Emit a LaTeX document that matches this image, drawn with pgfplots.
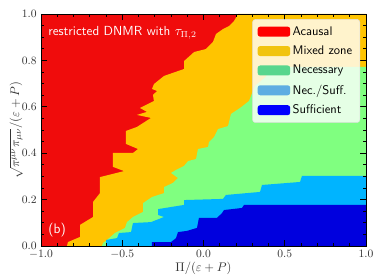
\documentclass[border=0pt]{standalone}
\usepackage{pgfplots}
\pgfplotsset{compat=1.18}
\definecolor{cred}{RGB}{240,12,12}
\definecolor{cyel}{RGB}{255,196,0}
\definecolor{cgrn}{RGB}{128,255,128}
\definecolor{ccyn}{RGB}{0,180,255}
\definecolor{cblu}{RGB}{0,0,222}
\definecolor{lred}{RGB}{255,0,0}
\definecolor{lyel}{RGB}{241,196,15}
\definecolor{lgrn}{RGB}{88,214,141}
\definecolor{lcyn}{RGB}{93,173,226}
\definecolor{lblu}{RGB}{0,0,255}
\begin{document}
\begin{tikzpicture}
\begin{axis}[
  scale only axis,
  width=260pt, height=185.6pt,
  xmin=-1, xmax=1, ymin=0, ymax=1,
  axis on top,
  xtick={-1,-0.5,0,0.5,1}, ytick={0,0.2,0.4,0.6,0.8,1},
  minor x tick num=4, minor y tick num=3,
  tick align=inside, xtick pos=both, ytick pos=both,
  major tick length=5pt, minor tick length=2.6pt,
  every tick/.style={black, line width=0.6pt},
  axis line style={black, line width=0.6pt},
  xticklabel style={/pgf/number format/.cd, fixed, fixed zerofill, precision=1},
  yticklabel style={/pgf/number format/.cd, fixed, fixed zerofill, precision=1},
  tick label style={font=\fontsize{9}{10}\selectfont, black!80},
  xlabel={$\Pi/(\varepsilon+P)$},
  ylabel={$\sqrt{\pi^{\mu\nu}\pi_{\mu\nu}}/(\varepsilon+P)$},
  every axis x label/.style={at={(axis description cs:0.5,-0.095)}, anchor=center, font=\fontsize{10}{12}\selectfont, black!80},
  every axis y label/.style={at={(axis description cs:-0.076,0.5)}, anchor=center, rotate=90, font=\fontsize{10}{12}\selectfont, black!80},
  legend image code/.code={\fill[#1, fill opacity=1, draw=none] (0pt,-4pt) rectangle (26pt,4pt);},
  legend cell align=left,
  legend style={at={(1,1)}, anchor=north east, xshift=-4.8pt, yshift=-4.2pt,
    fill=white, fill opacity=0.8, text opacity=1, draw=black!12, rounded corners=2pt,
    font=\sffamily\fontsize{10}{12}\selectfont, row sep=3.1pt, inner xsep=4pt, inner ysep=3.5pt,
    /tikz/every even column/.append style={column sep=2pt}},
]
% Acausal background
\addplot[fill=cred, draw=none, forget plot] coordinates {(-1,0) (1,0) (1,1) (-1,1)} -- cycle;
% Mixed zone
\addplot[fill=cyel, draw=none, forget plot] coordinates {
(0.212,1.0) (0.188,0.970) (0.157,0.948) (0.120,0.935) (0.077,0.914) (0.058,0.879)
(0.015,0.849) (-0.058,0.836) (-0.120,0.797) (-0.120,0.763) (-0.243,0.733) (-0.305,0.698)
(-0.317,0.677) (-0.286,0.668) (-0.311,0.651) (-0.305,0.625) (-0.391,0.595) (-0.348,0.578)
(-0.410,0.565) (-0.323,0.552) (-0.410,0.513) (-0.477,0.496) (-0.477,0.440) (-0.403,0.418)
(-0.434,0.401) (-0.557,0.401) (-0.557,0.341) (-0.489,0.323) (-0.637,0.297) (-0.637,0.228)
(-0.680,0.190) (-0.680,0.125) (-0.760,0.091) (-0.760,0.039) (-0.834,0.017) (-0.840,0)
(1,0) (1,1)} -- cycle;
% Necessary
\addplot[fill=cgrn, draw=none, forget plot] coordinates {
(1,0.772) (0.409,0.772) (0.385,0.730) (0.317,0.690) (0.280,0.625) (0.225,0.595) (0.169,0.569)
(0.151,0.517) (0.089,0.504) (0.065,0.470) (0.034,0.448) (0.028,0.427) (-0.034,0.418)
(-0.046,0.375) (-0.095,0.366) (-0.120,0.345) (-0.169,0.328) (-0.200,0.315) (-0.157,0.293)
(-0.188,0.272) (-0.243,0.254) (-0.243,0.228) (-0.317,0.211) (-0.372,0.185) (-0.372,0.147)
(-0.434,0.125) (-0.471,0.103) (-0.483,0.078) (-0.545,0.056) (-0.594,0.026) (-0.618,0.013)
(-0.625,0) (1,0)} -- cycle;
% Nec./Suff.
\addplot[fill=ccyn, draw=none, forget plot] coordinates {
(1,0.302) (0.606,0.302) (0.594,0.276) (0.360,0.263) (0.348,0.233) (0.138,0.220) (0.120,0.203)
(-0.120,0.198) (-0.120,0.177) (-0.280,0.159) (-0.280,0.134) (-0.243,0.125) (-0.323,0.103)
(-0.434,0.099) (-0.446,0.060) (-0.520,0.056) (-0.532,0.034) (-0.600,0.026) (-0.600,0) (1,0)} -- cycle;
% Sufficient
\addplot[fill=cblu, draw=none, forget plot] coordinates {
(1,0.177) (0.249,0.177) (0.237,0.164) (0.126,0.155) (0.114,0.142) (0.083,0.121) (-0.028,0.121)
(-0.040,0.078) (-0.102,0.065) (-0.157,0.060) (-0.169,0.034) (-0.200,0.017) (-0.317,0.017)
(-0.317,0) (1,0)} -- cycle;
\addlegendimage{fill=lred}\addlegendentry{Acausal}
\addlegendimage{fill=lyel}\addlegendentry{Mixed zone}
\addlegendimage{fill=lgrn}\addlegendentry{Necessary}
\addlegendimage{fill=lcyn}\addlegendentry{Nec./Suff.}
\addlegendimage{fill=lblu}\addlegendentry{Sufficient}
\node[anchor=west, text=white, font=\sffamily\fontsize{10.5}{12}\selectfont, inner sep=0pt] at (rel axis cs:0.022,0.918) {restricted DNMR with $\tau_{\Pi,2}$};
\node[anchor=west, text=white, font=\sffamily\fontsize{11}{13}\selectfont, inner sep=0pt] at (rel axis cs:0.022,0.069) {(b)};
\coordinate (sw) at (rel axis cs:0,0);
\coordinate (ne) at (rel axis cs:1,1);
\end{axis}
\pgfresetboundingbox
\path ([shift={(-32.8pt,-27.2pt)}]sw) rectangle ([shift={(6.4pt,11.2pt)}]ne);
\end{tikzpicture}
\end{document}
